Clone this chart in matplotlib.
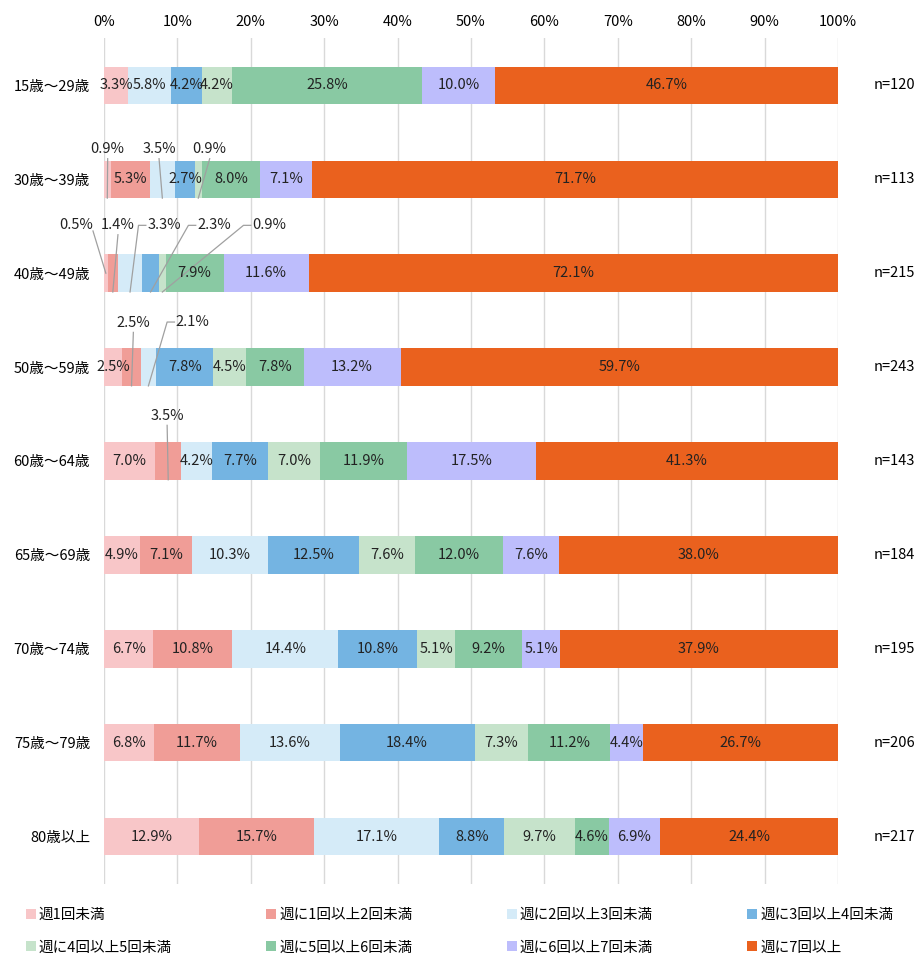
import numpy as np
import matplotlib
matplotlib.use('Agg')
import matplotlib.pyplot as plt

plt.rcParams['font.family'] = ['Noto Sans CJK JP', 'DejaVu Sans']

groups = ['15歳～29歳', '30歳～39歳', '40歳～49歳', '50歳～59歳', '60歳～64歳',
          '65歳～69歳', '70歳～74歳', '75歳～79歳', '80歳以上']
n_labels = ['n=120', 'n=113', 'n=215', 'n=243', 'n=143', 'n=184', 'n=195', 'n=206', 'n=217']
categories = ['週1回未満', '週に1回以上2回未満', '週に2回以上3回未満', '週に3回以上4回未満',
              '週に4回以上5回未満', '週に5回以上6回未満', '週に6回以上7回未満', '週に7回以上']
colors = ['#f8c6c8', '#f09d97', '#d5ebf8', '#74b4e2', '#c6e3cb', '#89c9a3', '#bdbdfc', '#ea611e']

# rows = age groups, columns = categories (percent)
values = np.array([
    [3.3, 0.0, 5.8, 4.2, 4.2, 25.8, 10.0, 46.7],
    [0.9, 5.3, 3.5, 2.7, 0.9, 8.0, 7.1, 71.7],
    [0.5, 1.4, 3.3, 2.3, 0.9, 7.9, 11.6, 72.1],
    [2.5, 2.5, 2.1, 7.8, 4.5, 7.8, 13.2, 59.7],
    [7.0, 3.5, 4.2, 7.7, 7.0, 11.9, 17.5, 41.3],
    [4.9, 7.1, 10.3, 12.5, 7.6, 12.0, 7.6, 38.0],
    [6.7, 10.8, 14.4, 10.8, 5.1, 9.2, 5.1, 37.9],
    [6.8, 11.7, 13.6, 18.4, 7.3, 11.2, 4.4, 26.7],
    [12.9, 15.7, 17.1, 8.8, 9.7, 4.6, 6.9, 24.4],
])

# labels drawn outside the bar with a leader line
# (row, col) -> (label x in %, row offset, where the leader starts)
callouts = {
    (1, 0): (0.5, -0.32, 'bottom'),
    (1, 2): (7.5, -0.32, 'bottom'),
    (1, 4): (14.4, -0.32, 'bottom'),
    (2, 0): (-3.8, -0.51, 'right'),
    (2, 1): (1.9, -0.51, 'bottom'),
    (2, 2): (8.2, -0.51, 'left'),
    (2, 3): (15.0, -0.51, 'left'),
    (2, 4): (22.5, -0.51, 'left'),
    (3, 1): (4.0, -0.47, 'bottom'),
    (3, 2): (12.1, -0.48, 'left'),
    (4, 1): (8.6, -0.48, 'bottom'),
}

fig = plt.figure(figsize=(9.17, 9.58), dpi=100)
ax = fig.add_axes([104 / 917, 1 - 883.5 / 958, 734 / 917, 845 / 958])

bar_h = 0.4
y = np.arange(len(groups))
left = np.zeros(len(groups))
lc = '#a0a0a0'
for j, cat in enumerate(categories):
    ax.barh(y, values[:, j], left=left, height=bar_h, color=colors[j], label=cat, zorder=2)
    for i in range(len(groups)):
        v = values[i, j]
        if v == 0:
            continue
        cx = left[i] + v / 2
        txt = f'{v:.1f}%'
        if (i, j) in callouts:
            lx, dy, mode = callouts[(i, j)]
            ly = i + dy
            ax.text(lx, ly, txt, ha='center', va='center', fontsize=10.5, color='#222222', zorder=4)
            if mode == 'bottom':
                ax.plot([lx, cx], [ly + 0.1, i + bar_h / 2], color=lc, lw=0.9, zorder=3)
            elif mode == 'left':
                ax.plot([lx - 2.5, lx - 3.5, cx], [ly, ly, i + bar_h / 2], color=lc, lw=0.9, zorder=3)
            else:
                ax.plot([lx + 2.3, cx], [ly + 0.06, i], color=lc, lw=0.9, zorder=3, clip_on=False)
        else:
            ax.text(cx, i, txt, ha='center', va='center', fontsize=10.5, color='#222222', zorder=4)
    left += values[:, j]

ax.set_xlim(0, 100)
ax.set_ylim(len(groups) - 0.5, -0.5)
ax.set_xticks(np.arange(0, 101, 10))
ax.set_xticklabels([f'{t}%' for t in range(0, 101, 10)], fontsize=10.5)
ax.xaxis.tick_top()
ax.tick_params(axis='x', length=0, pad=7)
ax.set_yticks(y)
ax.set_yticklabels(groups, fontsize=10.5)
ax.tick_params(axis='y', length=0, pad=10)
ax.grid(axis='x', color='#d9d9d9', lw=1, zorder=0)
for s in ax.spines.values():
    s.set_visible(False)

for i, n in enumerate(n_labels):
    ax.text(1.105, i, n, transform=ax.get_yaxis_transform(), ha='right', va='center', fontsize=10.5)

# legend filled row by row
handles, labels = ax.get_legend_handles_labels()
order = [0, 4, 1, 5, 2, 6, 3, 7]
fig.legend([handles[k] for k in order], [labels[k] for k in order],
           loc='lower left', bbox_to_anchor=(0.017, -0.007), ncol=4,
           frameon=False, fontsize=10.5, handlelength=0.7, handleheight=0.7,
           handletextpad=0.2, columnspacing=6.45, borderaxespad=0.3, labelspacing=1.25)

fig.savefig('out.png', dpi=100)
